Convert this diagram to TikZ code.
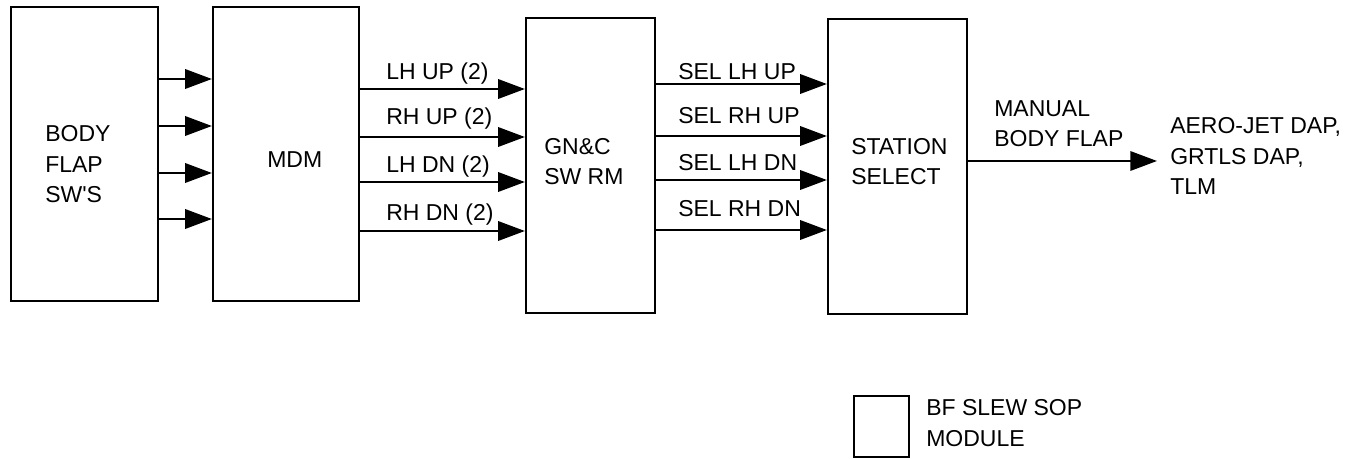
\documentclass[tikz,border=0pt]{standalone}
\usepackage{fontspec}
\setmainfont{Liberation Sans}
\usetikzlibrary{arrows.meta,positioning}

\begin{document}
\begin{tikzpicture}[x=0.75pt,y=-0.75pt,
    font=\fontsize{17.25}{22.9}\selectfont,
    box/.style={draw,line width=1.7pt,inner sep=0pt},
    flow/.style={line width=1.7pt,-{Triangle[length=20pt,width=14.5pt]}},
    lbl/.style={anchor=base west,inner sep=0pt,align=left}]
  \useasboundingbox (0,0) rectangle (1357,459);
  \node[box,minimum width=110.25pt,minimum height=220.5pt] (body) at (84.5,154) {};
  \node[box,minimum width=109.5pt,minimum height=220.5pt] (mdm) at (286,154) {};
  \node[box,minimum width=96.75pt,minimum height=221.25pt] (gnc) at (590.5,165.5) {};
  \node[box,minimum width=104.25pt,minimum height=221.25pt] (sel) at (897.5,166.5) {};
  \node[lbl] (bodyt) at (45,203) {BODY\\FLAP\\SW\textquotesingle S};
  \node[lbl] (mdmt) at (267,168) {MDM};
  \node[lbl] (gnct) at (544,185) {GN\&C\\SW RM};
  \node[lbl] (selt) at (851,185) {STATION\\SELECT};
  \foreach \y in {79,126,173,219}
    \draw[flow] (body.east |- 0,\y) -- (mdm.west |- 0,\y);
  \foreach \y/\b/\t [count=\i] in {89/80/LH UP (2),137/125/RH UP (2),182/173/LH DN (2),231/221/RH DN (2)}{
    \node[lbl] (m\i) at (386,\b) {\t};
    \draw[flow] (mdm.east |- 0,\y) -- (gnc.west |- 0,\y);
  }
  \foreach \y/\b/\t [count=\i] in {84/80/SEL LH UP,136/124/SEL RH UP,180/171/SEL LH DN,230/217/SEL RH DN}{
    \node[lbl] (s\i) at (678,\b) {\t};
    \draw[flow] (gnc.east |- 0,\y) -- (sel.west |- 0,\y);
  }
  \coordinate (out) at (1157,161);
  \draw[flow] (sel.east |- out) -- (out);
  \node[lbl] (man) at (994,147) {MANUAL\\BODY FLAP};
  \node[lbl] (dest) at (1170,195) {AERO-JET DAP,\\GRTLS DAP,\\TLM};
  \node[box,minimum width=41.25pt,minimum height=45.75pt] (sop) at (881.5,426.5) {};
  \node[lbl,font=\fontsize{17.25}{24}\selectfont] (sopl) at (926,447) {BF SLEW SOP\\MODULE};
\end{tikzpicture}
\end{document}
